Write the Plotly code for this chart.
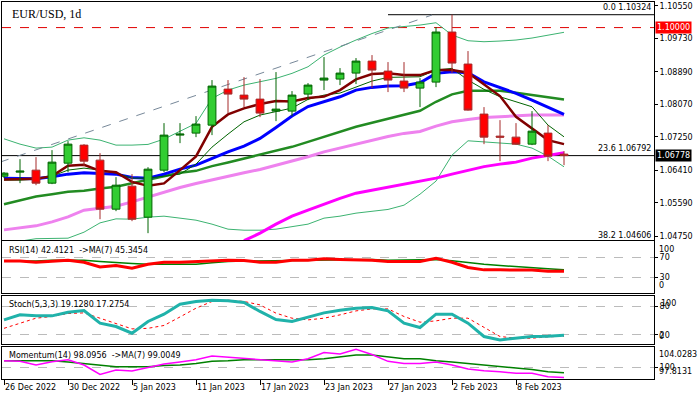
import plotly.graph_objects as go

# ---------------- data ----------------
dates = ["2022-12-26", "2022-12-27", "2022-12-28", "2022-12-29", "2022-12-30",
         "2023-01-02", "2023-01-03", "2023-01-04", "2023-01-05", "2023-01-06",
         "2023-01-09", "2023-01-10", "2023-01-11", "2023-01-12", "2023-01-13",
         "2023-01-16", "2023-01-17", "2023-01-18", "2023-01-19", "2023-01-20",
         "2023-01-23", "2023-01-24", "2023-01-25", "2023-01-26", "2023-01-27",
         "2023-01-30", "2023-01-31", "2023-02-01", "2023-02-02", "2023-02-03",
         "2023-02-06", "2023-02-07", "2023-02-08", "2023-02-09", "2023-02-10",
         "2023-02-13"]

open_ = [1.06261, 1.06362, 1.06412, 1.06085, 1.06588, 1.07042, 1.06664, 1.05430, 1.06009, 1.05229,
         1.06412, 1.07294, 1.07344, 1.07545, 1.08452, 1.08301, 1.08200, 1.07898, 1.07898, 1.08326,
         1.08679, 1.08704, 1.08855, 1.09157, 1.08905, 1.08654, 1.08477, 1.08628, 1.09888, 1.09082,
         1.07823, 1.07268, 1.07243, 1.07067, 1.07344, 1.06815]
high = [1.06362, 1.06689, 1.06740, 1.06916, 1.07143, 1.07067, 1.06840, 1.06236, 1.06312, 1.06487,
        1.07596, 1.07596, 1.07772, 1.08679, 1.08679, 1.08754, 1.08704, 1.08880, 1.08402, 1.08603,
        1.09258, 1.08981, 1.09233, 1.09308, 1.09132, 1.09132, 1.08729, 1.10014, 1.10324, 1.09409,
        1.07999, 1.07671, 1.07596, 1.07898, 1.07545, 1.06891]
low = [1.06211, 1.06085, 1.06034, 1.06060, 1.06362, 1.06513, 1.05178, 1.05380, 1.05128, 1.04826,
       1.06362, 1.07092, 1.07243, 1.07294, 1.07848, 1.07999, 1.07747, 1.07646, 1.07772, 1.08175,
       1.08427, 1.08553, 1.08578, 1.08477, 1.08377, 1.08377, 1.07999, 1.08502, 1.08855, 1.07910,
       1.07067, 1.06639, 1.07050, 1.07042, 1.06639, 1.06538]
close = [1.06337, 1.06387, 1.06085, 1.06614, 1.07067, 1.06639, 1.05430, 1.06034, 1.05178, 1.06437,
         1.07294, 1.07319, 1.07571, 1.08528, 1.08326, 1.08200, 1.07848, 1.07948, 1.08301, 1.08553,
         1.08729, 1.08855, 1.09157, 1.08931, 1.08679, 1.08477, 1.08628, 1.09888, 1.09107, 1.07923,
         1.07243, 1.07243, 1.07067, 1.07394, 1.06765, 1.06778]

ma_maroon = [1.06178, 1.06178, 1.06193, 1.06261, 1.06521, 1.06546, 1.06395, 1.06362, 1.06118, 1.06017,
             1.06078, 1.06413, 1.06758, 1.07503, 1.07815, 1.07967, 1.08075, 1.08150, 1.08138, 1.08226,
             1.08264, 1.08427, 1.08697, 1.08830, 1.08848, 1.08805, 1.08805, 1.08931, 1.08931, 1.08863,
             1.08579, 1.08276, 1.07755, 1.07463, 1.07168, 1.07067]
ma_blue = [1.06211, 1.06193, 1.06193, 1.06244, 1.06312, 1.06345, 1.06329, 1.06312, 1.06229, 1.06211,
           1.06312, 1.06438, 1.06539, 1.06707, 1.06873, 1.07017, 1.07211, 1.07488, 1.07773, 1.08012,
           1.08133, 1.08259, 1.08427, 1.08495, 1.08528, 1.08536, 1.08611, 1.08848, 1.08888, 1.08863,
           1.08636, 1.08495, 1.08344, 1.08176, 1.07992, 1.07815]
ma_thin_green = [1.06161, 1.06161, 1.06186, 1.06261, 1.06413, 1.06463, 1.06413, 1.06337, 1.06211, 1.06211,
                 1.06261, 1.06312, 1.06564, 1.06992, 1.07319, 1.07629, 1.07798, 1.07881, 1.07974, 1.08193,
                 1.08301, 1.08352, 1.08495, 1.08654, 1.08747, 1.08747, 1.08762, 1.08931, 1.08974, 1.08679,
                 1.08445, 1.08259, 1.08133, 1.08007, 1.07546, 1.07251]
ma_green = [1.05556, 1.05657, 1.05750, 1.05808, 1.05866, 1.05891, 1.05952, 1.05992, 1.06085, 1.06161,
            1.06269, 1.06345, 1.06395, 1.06513, 1.06607, 1.06707, 1.06790, 1.06891, 1.06999, 1.07125,
            1.07251, 1.07377, 1.07503, 1.07604, 1.07705, 1.07798, 1.07906, 1.08133, 1.08319, 1.08410,
            1.08410, 1.08410, 1.08359, 1.08301, 1.08244, 1.08193]
ma_violet = [1.04909, 1.04952, 1.05010, 1.05111, 1.05236, 1.05405, 1.05448, 1.05506, 1.05614, 1.05740,
             1.05866, 1.05977, 1.06078, 1.06161, 1.06261, 1.06345, 1.06430, 1.06539, 1.06632, 1.06748,
             1.06873, 1.06974, 1.07067, 1.07168, 1.07261, 1.07337, 1.07387, 1.07521, 1.07629, 1.07689,
             1.07740, 1.07755, 1.07780, 1.07798, 1.07798, 1.07798]
ma_magenta_start = 15
ma_magenta = [1.04637, 1.04826, 1.05053, 1.05254, 1.05405, 1.05556, 1.05700, 1.05833, 1.05909, 1.05984,
              1.06060, 1.06136, 1.06211, 1.06312, 1.06413, 1.06501, 1.06564, 1.06614, 1.06715, 1.06790,
              1.06848]
band_upper = [1.07201, 1.07067, 1.06967, 1.06992, 1.07168, 1.07226, 1.07168, 1.07042, 1.07042, 1.07060,
              1.07193, 1.07395, 1.07589, 1.08218, 1.08427, 1.08553, 1.08636, 1.08722, 1.08848, 1.09014,
              1.09309, 1.09510, 1.09687, 1.09850, 1.09989, 1.10022, 1.10064, 1.10122, 1.09813, 1.09669,
              1.09644, 1.09661, 1.09687, 1.09737, 1.09813, 1.09881]
band_lower = [1.04524, 1.04624, 1.04687, 1.04692, 1.04700, 1.04851, 1.05085, 1.05186, 1.05178, 1.05229,
              1.05254, 1.05204, 1.05153, 1.05053, 1.04927, 1.04901, 1.04901, 1.04927, 1.04985, 1.05053,
              1.05204, 1.05254, 1.05330, 1.05380, 1.05423, 1.05531, 1.05808, 1.06136, 1.06790, 1.07151,
              1.07125, 1.07100, 1.07067, 1.06967, 1.06765, 1.06496]

trend_x = [-0.25, 26.75]
trend_y = [1.06614, 1.10316]

level_round = 1.10000
last_price = 1.06778
fib_start = 24
fib_levels = [("0.0", 1.10324), ("23.6", 1.06792), ("38.2", 1.04606)]

rsi = [63, 63, 60.6, 63, 64.6, 60.6, 51, 54, 48.6, 56.6, 60.6, 60.6, 62, 64.6, 64.6, 64, 60.6, 60.6,
       64.6, 64.6, 67.3, 66, 66, 64.6, 62, 62, 62, 68.6, 60.6, 50, 45.3, 45.3, 45.3, 45, 42.6, 42.4121]
rsi_ma = [63, 63, 63, 64.6, 64.6, 64.6, 62, 59.3, 58, 56.6, 56.6, 56.6, 56.6, 59.3, 62, 63, 63.5, 63.5,
          64.6, 64.6, 66, 66, 66, 66, 64.6, 64.6, 66, 66, 63.3, 59.3, 56.6, 54, 51.3, 50, 47.3, 45.3454]
stoch_k = [51.8, 62.4, 60.3, 60.3, 68, 71.6, 44.8, 37.8, 23.7, 48.4, 63.8, 85, 90.7, 93.4, 92, 88.6,
           69.6, 52.6, 48.4, 56.9, 66.6, 72.2, 76.5, 78, 70.8, 44.8, 35.7, 63.8, 63.8, 44.8, 16.7, 9.5,
           13.1, 16.7, 17.5, 19.1280]
stoch_d = [34, 44, 55.4, 59, 65.3, 66.6, 55.4, 44.8, 32.8, 34, 40, 58, 76.5, 90.7, 93.4, 90.7, 83.5,
           66, 55.4, 51.8, 55.4, 62.4, 70.8, 75, 75, 59, 47, 49.7, 55.4, 55.4, 35.7, 16.7, 13.1, 13.1,
           16, 17.2754]
momentum = [101.3, 101.2, 100.5, 101.1, 101.5, 100.5, 98.7, 99.55, 99.35, 100, 100.7, 101.07, 101.5,
            102.2, 102, 101.7, 101.5, 101.3, 101.07, 101.7, 102.9, 102.6, 103.5, 102.5, 101.2, 100.8,
            100.8, 101.07, 100.5, 99.75, 99.4, 99.2, 98.9, 98.9, 98.25, 98.0956]
momentum_ma = [101.3, 101.3, 101.3, 101.3, 101.07, 100.8, 100.4, 100.14, 100.14, 100.14, 100.4, 100.5,
               100.8, 101.2, 101.3, 101.5, 101.5, 101.5, 101.5, 101.5, 101.7, 102, 102.4, 102.4, 102,
               101.7, 101.7, 101.3, 101.07, 100.8, 100.4, 100.2, 99.9, 99.63, 99.2, 99.0049]

price_ticks = [1.10550, 1.09730, 1.08890, 1.08070, 1.07250, 1.06410, 1.05590, 1.04750]
date_tick_idx = [0, 4, 8, 12, 16, 20, 24, 28, 32]
date_tick_text = ["26 Dec 2022", "30 Dec 2022", "5 Jan 2023", "11 Jan 2023", "17 Jan 2023",
                  "23 Jan 2023", "27 Jan 2023", "2 Feb 2023", "8 Feb 2023"]
rsi_levels = [70, 30]
stoch_levels = [80, 20]
mom_levels = [100]
mom_min, mom_max = 97.8131, 104.0283

# ---------------- layout geometry ----------------
W, Hfig = 698, 398
ML, MR, MT, MB = 2, 44, 2, 19.3
PH = Hfig - MT - MB
PW = W - ML - MR
PB = Hfig - MB


def dom(top_px, bot_px):
    return [(PB - bot_px) / PH, (PB - top_px) / PH]


def py(px):
    return (PB - px) / PH


def px_x(px):
    return (px - ML) / PW


FONT = "DejaVu Sans"
x_idx = list(range(len(dates)))
x_range = [-0.125, 40.625]

fig = go.Figure()


def line(y, color, width, x=None, dash=None):
    fig.add_trace(go.Scatter(x=x if x is not None else x_idx, y=y, mode="lines",
                             line=dict(color=color, width=width, dash=dash),
                             xaxis="x", yaxis="y", showlegend=False, hoverinfo="skip"))


line(band_upper, "#3CB371", 1)
line(band_lower, "#3CB371", 1)
line(trend_y, "#778899", 1, x=trend_x, dash="dash")
line(ma_violet, "#EE82EE", 3)
line(ma_magenta, "#FF00FF", 3, x=x_idx[ma_magenta_start:])
line(ma_green, "#228B22", 2.5)
line(ma_blue, "#0000FF", 3)
line(ma_thin_green, "#006400", 1)
line(ma_maroon, "#800000", 2.5)

# candles on an overlaying axis so they are drawn above the lines
fig.add_trace(go.Candlestick(
    x=x_idx, open=open_, high=high, low=low, close=close,
    increasing=dict(fillcolor="#32CD32", line=dict(color="#006400", width=1)),
    decreasing=dict(fillcolor="#FF0000", line=dict(color="#A52A2A", width=1)),
    whiskerwidth=0, xaxis="x", yaxis="y5", showlegend=False, hoverinfo="skip"))

# RSI
fig.add_trace(go.Scatter(x=x_idx, y=rsi_ma, mode="lines", line=dict(color="#008000", width=1.5),
                         xaxis="x2", yaxis="y2", showlegend=False))
fig.add_trace(go.Scatter(x=x_idx, y=rsi, mode="lines", line=dict(color="#FF0000", width=3),
                         xaxis="x2", yaxis="y2", showlegend=False))
# Stochastic
fig.add_trace(go.Scatter(x=x_idx, y=stoch_d, mode="lines", line=dict(color="#FF0000", width=1, dash="dot"),
                         xaxis="x3", yaxis="y3", showlegend=False))
fig.add_trace(go.Scatter(x=x_idx, y=stoch_k, mode="lines", line=dict(color="#20B2AA", width=3),
                         xaxis="x3", yaxis="y3", showlegend=False))
# Momentum
fig.add_trace(go.Scatter(x=x_idx, y=momentum_ma, mode="lines", line=dict(color="#008000", width=1.5),
                         xaxis="x4", yaxis="y4", showlegend=False))
fig.add_trace(go.Scatter(x=x_idx, y=momentum, mode="lines", line=dict(color="#FF00FF", width=1.5),
                         xaxis="x4", yaxis="y4", showlegend=False))

main_dom = dom(2, 239.7)
rsi_dom = dom(241.3, 293)
sto_dom = dom(295.7, 344)
mom_dom = dom(346.3, 378.7)
y_main_range = [1.04657, 1.10644]


def xax(anchor, show_labels=False):
    d = dict(range=x_range, anchor=anchor, showline=True, mirror=True, linecolor="black", linewidth=1,
             showgrid=False, zeroline=False, fixedrange=True)
    if show_labels:
        d.update(tickmode="array", tickvals=date_tick_idx, ticktext=date_tick_text, ticks="outside",
                 ticklen=5, tickcolor="black", ticklabelposition="outside right",
                 tickfont=dict(family=FONT, size=8, color="black"))
    else:
        d.update(showticklabels=False, ticks="")
    return d


def yax(domain, rng, tickvals, anchor, ticktext=None, grid=False):
    d = dict(domain=domain, range=rng, side="right", anchor=anchor,
             showline=True, mirror=True, linecolor="black", linewidth=1, zeroline=False,
             tickmode="array", tickvals=tickvals, ticks="outside", ticklen=3, tickcolor="black",
             tickfont=dict(family=FONT, size=8, color="black"), fixedrange=True,
             showgrid=grid, gridcolor="#BBBBBB", griddash="dash", gridwidth=1)
    if ticktext is not None:
        d["ticktext"] = ticktext
    return d


ya = yax(main_dom, y_main_range, price_ticks, "x", [f"{v:.5f}" for v in price_ticks])
ya2 = yax(rsi_dom, [-1.4, 102], rsi_levels, "x2", grid=True)
ya3 = yax(sto_dom, [0.3, 102.4], stoch_levels, "x3", grid=True)
ya4 = yax(mom_dom, [mom_min, mom_max], mom_levels, "x4", grid=True)
ya5 = dict(overlaying="y", matches="y", range=y_main_range, visible=False, anchor="x")

xa = xax("y"); xa["domain"] = [0, 1]; xa["rangeslider"] = dict(visible=False)
xa2 = xax("y2"); xa2["matches"] = "x"
xa3 = xax("y3"); xa3["matches"] = "x"
xa4 = xax("y4", show_labels=True); xa4["matches"] = "x"

shapes = [
    dict(type="line", xref="x domain", yref="y", x0=0, x1=1, y0=level_round, y1=level_round,
         line=dict(color="#E00000", width=1, dash="dash"), layer="below"),
    dict(type="line", xref="x domain", yref="y", x0=0, x1=1, y0=last_price, y1=last_price,
         line=dict(color="black", width=1), layer="below"),
    dict(type="line", xref="x", yref="y", x0=fib_start, x1=x_range[1], y0=fib_levels[0][1],
         y1=fib_levels[0][1], line=dict(color="black", width=1), layer="below"),
]

tf = dict(family=FONT, size=8, color="black")
ann = [
    dict(text="EUR/USD, 1d", xref="paper", yref="paper", x=px_x(10), y=py(13.5),
         xanchor="left", yanchor="middle", showarrow=False,
         font=dict(family="Liberation Serif", size=12, color="black")),
    dict(text=f"RSI(14) {rsi[-1]:.4f}&nbsp;&nbsp;->MA(7) {rsi_ma[-1]:.4f}", xref="paper", yref="paper",
         x=px_x(7), y=py(250.7), xanchor="left", yanchor="middle", showarrow=False, font=tf),
    dict(text=f"Stoch(5,3,3) {stoch_k[-1]:.4f} {stoch_d[-1]:.4f}", xref="paper", yref="paper",
         x=px_x(7), y=py(304.7), xanchor="left", yanchor="middle", showarrow=False, font=tf),
    dict(text=f"Momentum(14) {momentum[-1]:.4f}&nbsp;&nbsp;->MA(7) {momentum_ma[-1]:.4f}", xref="paper",
         yref="paper", x=px_x(7), y=py(355.3), xanchor="left", yanchor="middle", showarrow=False, font=tf),
    # fibo labels
    dict(text=f"{fib_levels[0][0]} {fib_levels[0][1]:.5f}", xref="paper", yref="y", x=px_x(653),
         y=fib_levels[0][1], xanchor="right", yanchor="bottom", yshift=1, showarrow=False, font=tf),
    dict(text=f"{fib_levels[1][0]} {fib_levels[1][1]:.5f}", xref="paper", yref="y", x=px_x(653),
         y=fib_levels[1][1], xanchor="right", yanchor="bottom", yshift=0, showarrow=False, font=tf),
    dict(text=f"{fib_levels[2][0]} {fib_levels[2][1]:.5f}", xref="paper", yref="y domain", x=px_x(653),
         y=0, xanchor="right", yanchor="bottom", yshift=-2, showarrow=False, font=tf),
    # right-side highlighted price labels
    dict(text=f"{level_round:.5f}", xref="paper", yref="y", x=1, y=level_round, xanchor="left",
         yanchor="middle", xshift=1, showarrow=False, bgcolor="#FF0000", borderpad=1,
         font=dict(family=FONT, size=8, color="white")),
    dict(text=f"{last_price:.5f}", xref="paper", yref="y", x=1, y=last_price, xanchor="left",
         yanchor="middle", xshift=1, showarrow=False, bgcolor="#000000", borderpad=1,
         font=dict(family=FONT, size=8, color="white")),
    # indicator panel extreme labels
    dict(text="100", xref="paper", yref="y2 domain", x=1, y=1, xanchor="left", yanchor="top",
         xshift=3, yshift=-2, showarrow=False, font=tf),
    dict(text="0", xref="paper", yref="y2 domain", x=1, y=0, xanchor="left", yanchor="bottom",
         xshift=3, yshift=1, showarrow=False, font=tf),
    dict(text="100", xref="paper", yref="y3 domain", x=1, y=1, xanchor="left", yanchor="top",
         xshift=5, yshift=-1, showarrow=False, font=tf),
    dict(text="0", xref="paper", yref="y3 domain", x=1, y=0, xanchor="left", yanchor="bottom",
         xshift=3, yshift=1, showarrow=False, font=tf),
    dict(text=f"{mom_max:.4f}", xref="paper", yref="y4 domain", x=1, y=1, xanchor="left", yanchor="top",
         xshift=3, yshift=-1, showarrow=False, font=tf),
    dict(text=f"{mom_min:.4f}", xref="paper", yref="y4 domain", x=1, y=0, xanchor="left", yanchor="bottom",
         xshift=3, yshift=1, showarrow=False, font=tf),
]

fig.update_layout(
    width=W, height=Hfig, margin=dict(l=ML, r=MR, t=MT, b=MB, autoexpand=False),
    paper_bgcolor="white", plot_bgcolor="white", showlegend=False, hovermode=False,
    font=dict(family=FONT, size=8, color="black"),
    xaxis=xa, xaxis2=xa2, xaxis3=xa3, xaxis4=xa4,
    yaxis=ya, yaxis2=ya2, yaxis3=ya3, yaxis4=ya4, yaxis5=ya5,
    shapes=shapes, annotations=ann,
)

fig.write_html("out.html", config={"displayModeBar": False},
               post_script="document.body.style.margin='0';document.body.style.overflow='hidden';")
